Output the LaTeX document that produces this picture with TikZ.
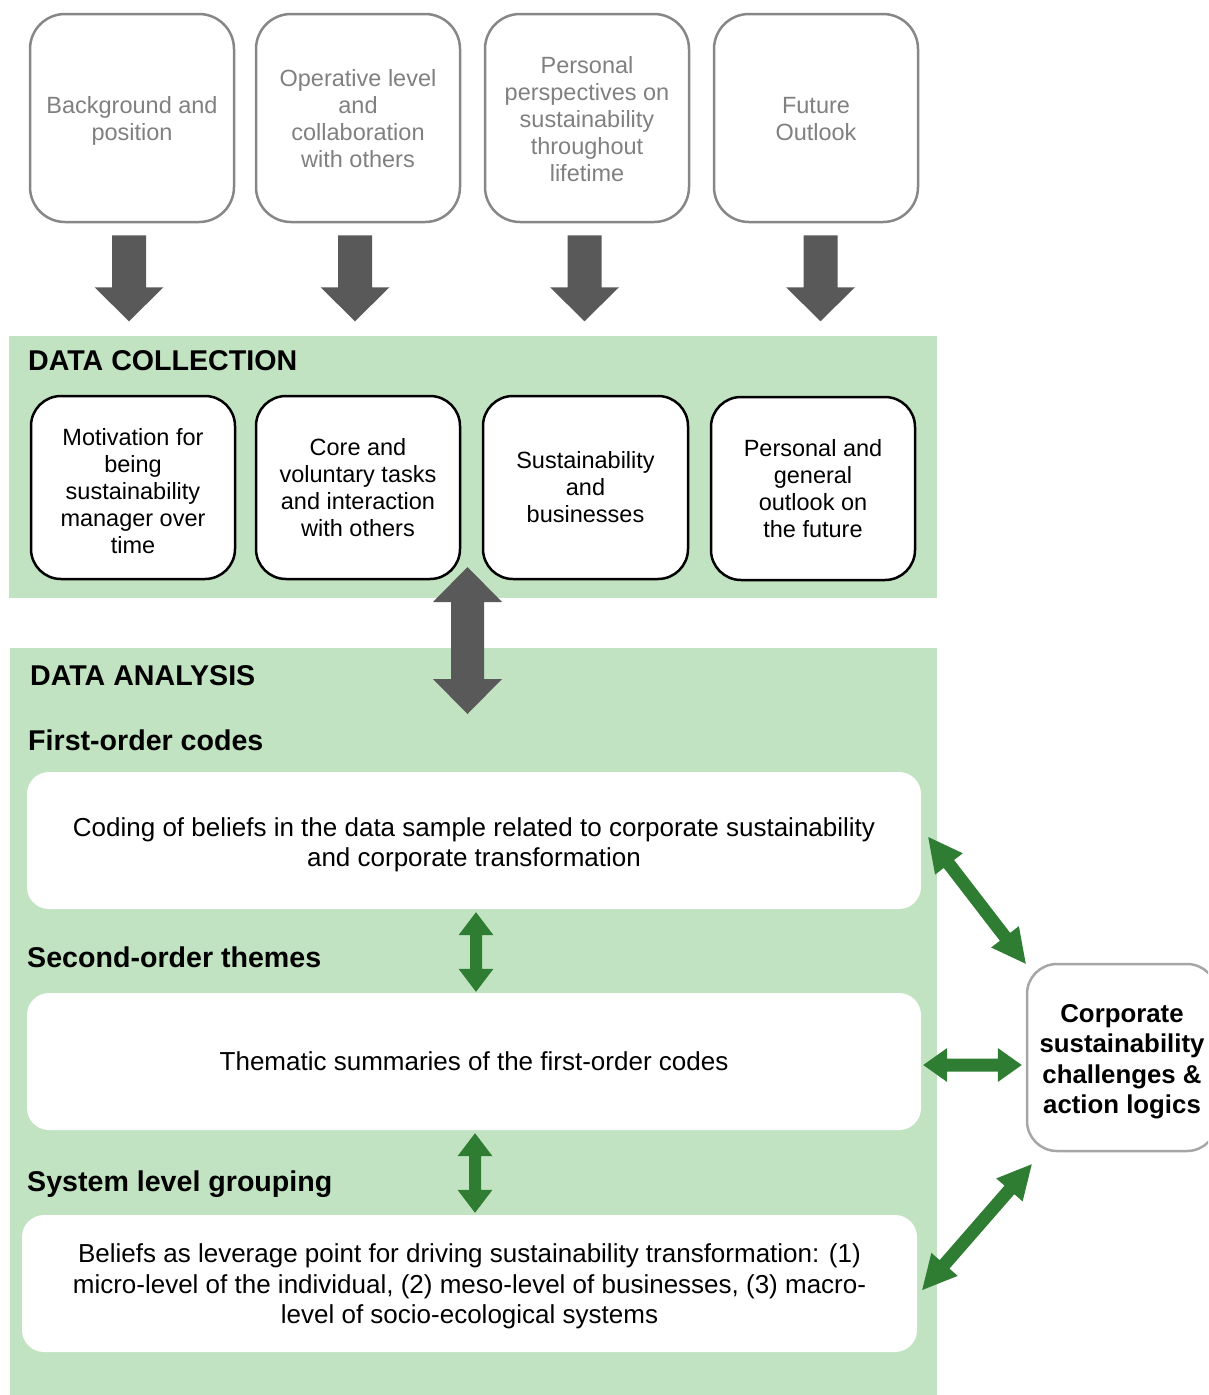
\documentclass[tikz,border=0pt]{standalone}
\usepackage{fontspec}
\setmainfont{Liberation Sans}
\usetikzlibrary{calc}

\definecolor{panel}{HTML}{C1E3C2}
\definecolor{arrowgray}{HTML}{595959}
\definecolor{arrowgreen}{HTML}{2E7D32}
\definecolor{framegray}{HTML}{878787}
\definecolor{topgray}{HTML}{808080}
\definecolor{sidegray}{HTML}{A6A6A6}

% block arrow with one head: colour, tail, tip, shaft half-width, head half-width, head length
\newcommand{\onewayarrow}[6]{%
  \fill[#1] ($(#2)!#4!90:(#3)$)
    -- ($(#3)!#6!(#2)!#4!-90:(#2)$)
    -- ($(#3)!#6!(#2)!#5!-90:(#2)$)
    -- (#3)
    -- ($(#3)!#6!(#2)!#5!90:(#2)$)
    -- ($(#3)!#6!(#2)!#4!90:(#2)$)
    -- ($(#2)!#4!-90:(#3)$) -- cycle;}

% block arrow with a head at both ends
\newcommand{\twowayarrow}[6]{%
  \fill[#1] (#2)
    -- ($(#2)!#6!(#3)!#5!90:(#3)$)
    -- ($(#2)!#6!(#3)!#4!90:(#3)$)
    -- ($(#3)!#6!(#2)!#4!-90:(#2)$)
    -- ($(#3)!#6!(#2)!#5!-90:(#2)$)
    -- (#3)
    -- ($(#3)!#6!(#2)!#5!90:(#2)$)
    -- ($(#3)!#6!(#2)!#4!90:(#2)$)
    -- ($(#2)!#6!(#3)!#4!-90:(#3)$)
    -- ($(#2)!#6!(#3)!#5!-90:(#3)$) -- cycle;}

% invisible strut that makes a first line taller
\newcommand{\tallfirst}[1]{\rule{0pt}{#1}}

\tikzset{
  bodyfont/.style={font=\fontsize{23.5}{27}\selectfont},
  topbox/.style={draw=framegray, line width=2.5pt, rounded corners=35pt,
    minimum width=204pt, minimum height=208pt, inner sep=0pt, align=center,
    text=topgray, bodyfont},
  colbox/.style={draw=black, fill=white, line width=2.5pt, rounded corners=30pt,
    minimum width=204pt, minimum height=183pt, inner sep=0pt, align=center, bodyfont},
  whitebox/.style={fill=white, rounded corners=22pt, minimum width=894pt,
    minimum height=137pt, inner sep=0pt, align=center,
    font=\fontsize{26}{30.5}\selectfont},
  sidebox/.style={draw=sidegray, fill=white, line width=2.5pt, rounded corners=30pt,
    minimum width=190pt, minimum height=187pt, inner sep=0pt, align=center,
    font=\fontsize{25.8}{30.5}\selectfont\bfseries},
  heading/.style={anchor=base west, inner sep=0pt, font=\fontsize{28.6}{33}\selectfont\bfseries},
  panelbox/.style={fill=panel, inner sep=0pt},
}

\begin{document}
\begin{tikzpicture}[x=1pt, y=-1pt]
\useasboundingbox (0,0) rectangle (1208,1395);
\clip (0,0) rectangle (1208,1395);

% green panels
\node[panelbox, minimum width=928pt, minimum height=262pt] (dc) at (473,467) {};
\node[panelbox, minimum width=927pt, minimum height=760pt] (da) at (473.5,1028) {};

% interview topics
\node[topbox] (t1) at (132,118) {\tallfirst{23pt}Background and\\position};
\node[topbox] (t2) at (358,118) {\tallfirst{18pt}Operative level\\and\\collaboration\\with others};
\node[topbox] (t3) at (587,118) {\tallfirst{19pt}Personal\\perspectives on\\sustainability\\throughout\\lifetime};
\node[topbox] (t4) at (816,118) {\tallfirst{19pt}Future\\Outlook};

% data collection
\node[heading] (dch) at (28,370) {DATA COLLECTION};
\node[colbox] (c1) at (133,487.5) {\tallfirst{25pt}Motivation for\\being\\sustainability\\manager over\\time};
\node[colbox] (c2) at (358,487.5) {Core and\\voluntary tasks\\and interaction\\with others};
\node[colbox, minimum width=205pt] (c3) at (585.5,487.5) {Sustainability\\and\\businesses};
\node[colbox] (c4) at (813,488.5) {Personal and\\general\\outlook on\\the future};

% data analysis
\node[heading] (dah) at (30,685) {DATA ANALYSIS};
\node[heading] (h1) at (28,750) {First-order codes};
\node[whitebox] (w1) at (474,840.5) {\tallfirst{27pt}Coding of beliefs in the data sample related to corporate sustainability\\and corporate transformation};
\node[heading] (h2) at (27,967) {Second-order themes};
\node[whitebox] (w2) at (474,1061.5) {Thematic summaries of the first-order codes};
\node[heading] (h3) at (27,1191) {System level grouping};
\node[whitebox, minimum width=895pt] (w3) at (469.5,1283.5) {\tallfirst{25pt}Beliefs as leverage point for driving sustainability transformation: (1)\\micro-level of the individual, (2) meso-level of businesses, (3) macro-\\level of socio-ecological systems};

% outcome
\node[sidebox] (rb) at (1122,1057.5) {\tallfirst{26.5pt}Corporate\\sustainability\\challenges \&\\action logics};

% arrows from the topics into data collection
\coordinate (a1s) at ($(t1.south)+(-3,12)$);
\coordinate (a1e) at ($(a1s)+(0,86)$);
\coordinate (a2s) at ($(t2.south)+(-3,12)$);
\coordinate (a2e) at ($(a2s)+(0,86)$);
\coordinate (a3s) at ($(t3.south)+(-2.5,12)$);
\coordinate (a3e) at ($(a3s)+(0,86)$);
\coordinate (a4s) at ($(t4.south)+(4.5,12)$);
\coordinate (a4e) at ($(a4s)+(0,86)$);
\onewayarrow{arrowgray}{a1s}{a1e}{17pt}{34.5pt}{34pt}
\onewayarrow{arrowgray}{a2s}{a2e}{17pt}{34.5pt}{34pt}
\onewayarrow{arrowgray}{a3s}{a3e}{17pt}{34.5pt}{34pt}
\onewayarrow{arrowgray}{a4s}{a4e}{17pt}{34.5pt}{34pt}

% data collection <-> data analysis
\coordinate (g1) at (467.5,567);
\coordinate (g2) at (467.5,714);
\twowayarrow{arrowgray}{g1}{g2}{16.5pt}{34.5pt}{35pt}

% links between the coding stages
\coordinate (v1a) at ($(w1.south)+(2,3)$);
\coordinate (v1b) at ($(w2.north)+(2,-1)$);
\coordinate (v2a) at ($(w2.south)+(1,3)$);
\coordinate (v2b) at ($(w3.north)+(5.5,-2)$);
\twowayarrow{arrowgreen}{v1a}{v1b}{6pt}{17.5pt}{23pt}
\twowayarrow{arrowgreen}{v2a}{v2b}{6pt}{17.5pt}{23pt}

% links to the outcome box
\coordinate (d1a) at ($(w1.east)+(7,-3.5)$);
\coordinate (d1b) at ($(rb.north west)+(0,1)$);
\coordinate (d2a) at ($(w2.east)+(2,3.5)$);
\coordinate (d2b) at ($(rb.west)+(-4,7.5)$);
\coordinate (d3a) at ($(rb.south west)+(6,12)$);
\coordinate (d3b) at ($(w3.east)+(5,6.5)$);
\twowayarrow{arrowgreen}{d1a}{d1b}{6.5pt}{17.5pt}{34pt}
\twowayarrow{arrowgreen}{d2a}{d2b}{6.5pt}{17pt}{24pt}
\twowayarrow{arrowgreen}{d3a}{d3b}{6.5pt}{17.5pt}{34pt}
\end{tikzpicture}
\end{document}
